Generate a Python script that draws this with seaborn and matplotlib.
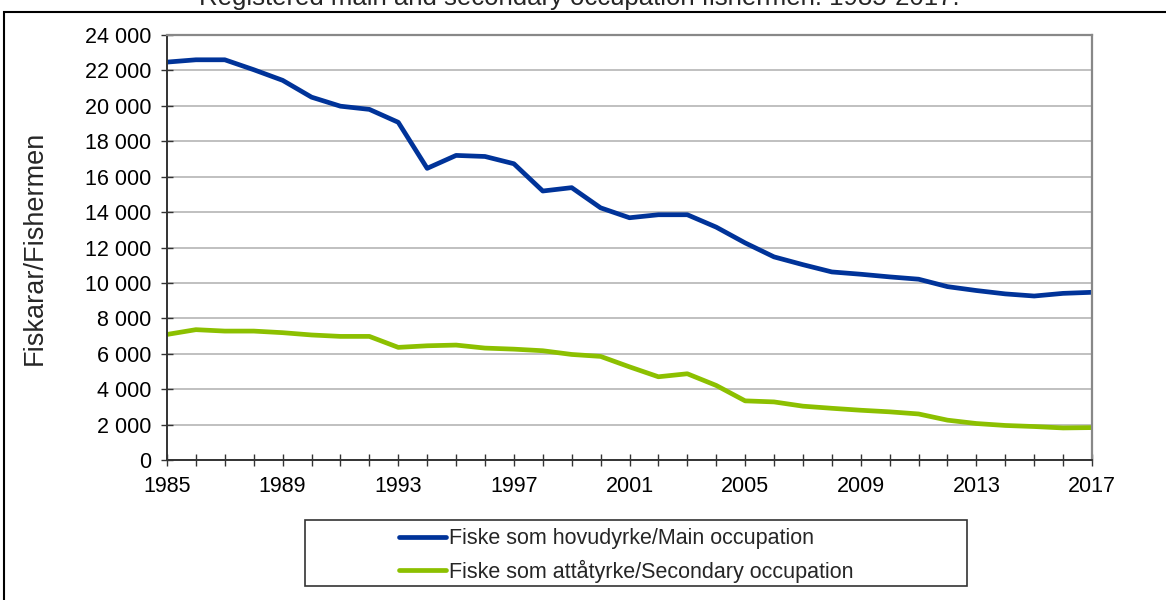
import matplotlib
matplotlib.use("Agg")
import matplotlib.pyplot as plt
from matplotlib.patches import Rectangle
from matplotlib.ticker import FuncFormatter, MultipleLocator, FixedLocator
import seaborn as sns
import pandas as pd

# data
years = list(range(1985, 2018))
main_occupation = [22470, 22600, 22600, 22040, 21440, 20490, 19980, 19800, 19070, 16470,
                   17200, 17140, 16730, 15190, 15380, 14240, 13680, 13850, 13850, 13150,
                   12260, 11470, 11030, 10620, 10490, 10340, 10210, 9790, 9570, 9380,
                   9260, 9410, 9470]
secondary_occupation = [7090, 7360, 7280, 7280, 7190, 7060, 6980, 6980, 6360, 6450,
                        6490, 6320, 6260, 6170, 5960, 5850, 5260, 4700, 4870, 4210,
                        3340, 3280, 3040, 2920, 2810, 2720, 2600, 2250, 2060, 1950,
                        1890, 1810, 1830]
tick_years = years[::4]
series_names = ["Fiske som hovudyrke/Main occupation",
                "Fiske som attåtyrke/Secondary occupation"]
series_colors = ["#003399", "#8CC000"]

title = "Registered main and secondary occupation fishermen. 1985-2017."
y_label = "Fiskarar/Fishermen"

df = pd.concat([
    pd.DataFrame({"year": years, "value": main_occupation, "series": series_names[0]}),
    pd.DataFrame({"year": years, "value": secondary_occupation, "series": series_names[1]}),
])

sns.set_theme(style="white")
plt.rcParams["font.family"] = ["Liberation Sans", "DejaVu Sans"]

fig = plt.figure(figsize=(11.66, 6), dpi=100)
ax = fig.add_axes([167 / 1166, 1 - 460 / 600, (1092 - 167) / 1166, (460 - 35) / 600])

sns.lineplot(data=df, x="year", y="value", hue="series", palette=series_colors,
             linewidth=3.4, ax=ax, legend=False)

ax.set_xlim(1985, 2017)
ax.set_ylim(0, 24000)
ax.xaxis.set_major_locator(FixedLocator(tick_years))
ax.xaxis.set_minor_locator(MultipleLocator(1))
ax.yaxis.set_major_locator(MultipleLocator(2000))
ax.yaxis.set_major_formatter(FuncFormatter(lambda v, p: f"{int(v):,}".replace(",", " ")))
ax.grid(axis="y", color="#C0C0C0", linewidth=1.4)
ax.set_axisbelow(True)

ax.tick_params(axis="both", which="both", direction="inout", length=9, width=1,
               color="#333333", labelsize=15.5, labelcolor="black")
ax.tick_params(axis="x", which="both", bottom=True, pad=7)
ax.tick_params(axis="y", left=True, pad=7)

for side in ["left", "bottom"]:
    ax.spines[side].set_color("#333333")
    ax.spines[side].set_linewidth(1.4)
for side in ["top", "right"]:
    ax.spines[side].set_color("#888888")
    ax.spines[side].set_linewidth(1.6)

ax.set_xlabel("")
ax.set_ylabel(y_label, fontsize=19.5)
ax.yaxis.set_label_coords(-119 / 925, 0.5)

fig.text(0.497, 1 - 5 / 600, title, ha="center", va="baseline", fontsize=18.5)

# outer frame
fig.patches.append(Rectangle((4 / 1166, -0.1), 1.2, 1.1 - 12 / 600,
                             transform=fig.transFigure, fill=False,
                             edgecolor="black", linewidth=1.5))

# legend box
fig.patches.append(Rectangle((305 / 1166, 1 - 586 / 600), (967 - 305) / 1166, 66 / 600,
                             transform=fig.transFigure, fill=False,
                             edgecolor="#333333", linewidth=1.2))
handles = [plt.Line2D([], [], color=c, linewidth=3.4) for c in series_colors]
fig.legend(handles, series_names, loc="upper left",
           bbox_to_anchor=(384 / 1166, 1 - 513 / 600), frameon=False,
           fontsize=15.5, handlelength=2.2, handletextpad=0.12, labelspacing=0.5,
           borderpad=0.2)

fig.savefig("out.png", dpi=100)
